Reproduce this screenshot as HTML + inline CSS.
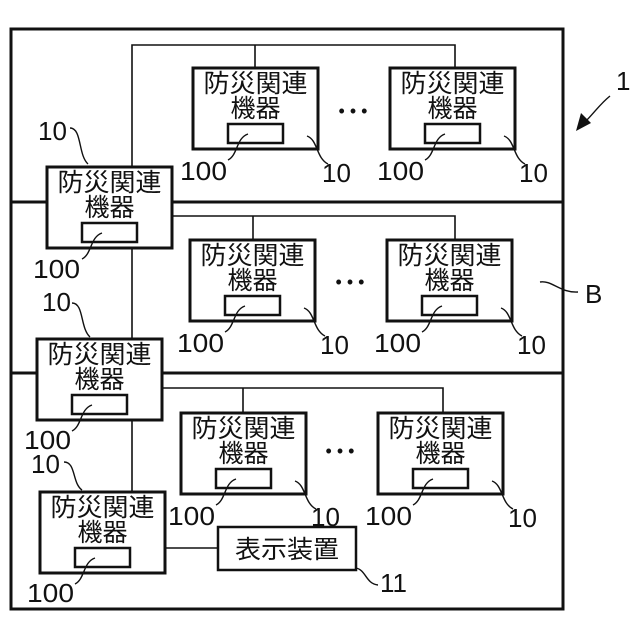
<!DOCTYPE html>
<html><head><meta charset="utf-8"><style>
html,body{margin:0;padding:0;background:#fff}
svg{display:block}
text{font-family:"Liberation Sans","Noto Sans CJK JP",sans-serif;fill:#111}
</style></head><body>
<svg width="640" height="640" viewBox="0 0 640 640" xmlns="http://www.w3.org/2000/svg">
<defs>
<g id="dev">
<rect x="0" y="0" width="125" height="81" fill="#fff" stroke="#111" stroke-width="3"/>
<text x="62.5" y="24" font-size="25" text-anchor="middle" textLength="104" lengthAdjust="spacingAndGlyphs">防災関連</text>
<text x="62.5" y="49" font-size="25" text-anchor="middle">機器</text>
<rect x="35" y="56" width="55" height="19" fill="#fff" stroke="#111" stroke-width="2.5"/>
</g>
</defs>
<g fill="none" stroke="#111">
<rect x="11" y="29" width="552" height="580" stroke-width="3"/>
<line x1="11" y1="202" x2="563" y2="202" stroke-width="3"/>
<line x1="11" y1="373" x2="563" y2="373" stroke-width="3"/>
<g stroke-width="1.6">
<path d="M132 167 V45 H455 V68 M255 45 V68"/>
<path d="M132 248 V339 M132 419 V492"/>
<path d="M172 216 H455 V240 M253 216 V240"/>
<path d="M162 388 H443 V413 M243 388 V413"/>
<path d="M164 548 H218"/>
</g>
</g>
<use href="#dev" x="193" y="68"/>
<use href="#dev" x="390" y="68"/>
<use href="#dev" x="47" y="167"/>
<use href="#dev" x="190" y="240"/>
<use href="#dev" x="387" y="240"/>
<use href="#dev" x="37" y="339"/>
<use href="#dev" x="181" y="413"/>
<use href="#dev" x="378" y="413"/>
<use href="#dev" x="40" y="492"/>
<rect x="218" y="527" width="138" height="43" fill="#fff" stroke="#111" stroke-width="2.5"/>
<text x="287" y="558" font-size="25" text-anchor="middle" textLength="104" lengthAdjust="spacingAndGlyphs">表示装置</text>
<g font-size="18" text-anchor="middle" fill="#111"><text x="353" y="117">• • •</text><text x="350" y="288">• • •</text><text x="340" y="457">• • •</text></g>
<g fill="none" stroke="#111" stroke-width="1.4">
<path d="M248 134 C236 138,238 155,228 160"/>
<path d="M307 136 C318 140,316 158,328 164"/>
<path d="M445 134 C433 138,435 155,425 160"/>
<path d="M504 136 C515 140,513 158,525 164"/>
<path d="M245 306 C233 310,235 327,225 332"/>
<path d="M304 308 C315 312,313 330,325 336"/>
<path d="M442 306 C430 310,432 327,422 332"/>
<path d="M501 308 C512 312,510 330,522 336"/>
<path d="M236 479 C224 483,226 500,216 505"/>
<path d="M295 481 C306 485,304 503,316 509"/>
<path d="M433 479 C421 483,423 500,413 505"/>
<path d="M492 481 C503 485,501 503,513 509"/>
<path d="M102 233 C90 237,92 254,82 259"/>
<path d="M92 405 C80 409,82 426,72 431"/>
<path d="M95 558 C83 562,85 579,75 584"/>
<path d="M70 128 C82 128,78 155,88 164"/>
<path d="M72 303 C84 303,80 328,90 337"/>
<path d="M64 462 C76 462,72 483,82 490"/>
<path d="M356 568 C366 570,366 584,378 585"/>
<path d="M540 282 C552 280,560 293,578 292"/>
<path d="M610 96 C600 104,595 112,585 122"/>
</g>
<path d="M576 131 L581 113 L591 123 Z" fill="#111"/>
<g font-size="26">
<text x="180" y="180" textLength="47" lengthAdjust="spacingAndGlyphs">100</text><text x="322" y="182">10</text>
<text x="377" y="180" textLength="47" lengthAdjust="spacingAndGlyphs">100</text><text x="519" y="182">10</text>
<text x="177" y="352" textLength="47" lengthAdjust="spacingAndGlyphs">100</text><text x="320" y="354">10</text>
<text x="374" y="352" textLength="47" lengthAdjust="spacingAndGlyphs">100</text><text x="517" y="354">10</text>
<text x="168" y="525" textLength="47" lengthAdjust="spacingAndGlyphs">100</text><text x="311" y="526">10</text>
<text x="365" y="525" textLength="47" lengthAdjust="spacingAndGlyphs">100</text><text x="508" y="527">10</text>
<text x="33" y="278" textLength="47" lengthAdjust="spacingAndGlyphs">100</text><text x="38" y="140">10</text>
<text x="24" y="449" textLength="47" lengthAdjust="spacingAndGlyphs">100</text><text x="42" y="311">10</text>
<text x="27" y="602" textLength="47" lengthAdjust="spacingAndGlyphs">100</text><text x="31" y="473">10</text>
<text x="380" y="592">11</text>
<text x="616" y="90">1</text>
<text x="585" y="303">B</text>
</g>
</svg>
</body></html>
